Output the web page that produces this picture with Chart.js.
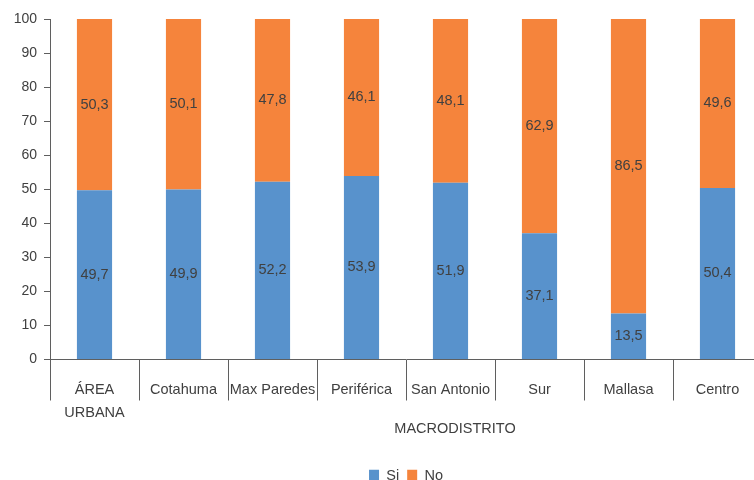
<!DOCTYPE html>
<html lang="es">
<head>
<meta charset="utf-8">
<title>Macrodistrito Si / No</title>
<script src="https://cdn.jsdelivr.net/npm/chart.js@4/dist/chart.umd.min.js"></script>
<style>
  html, body { margin: 0; padding: 0; background: #fff; overflow: hidden; }
  #wrap { width: 770px; height: 480px; }
</style>
</head>
<body>
<div id="wrap"><canvas id="chart" width="770" height="480"></canvas></div>
<script>
/* ── Datos ── */
const categories = [['ÁREA', 'URBANA'], 'Cotahuma', 'Max Paredes', 'Periférica', 'San Antonio', 'Sur', 'Mallasa', 'Centro'];
const siValues = [49.7, 49.9, 52.2, 53.9, 51.9, 37.1, 13.5, 50.4];
const noValues = [50.3, 50.1, 47.8, 46.1, 48.1, 62.9, 86.5, 49.6];
const yTicks = [0, 10, 20, 30, 40, 50, 60, 70, 80, 90, 100];
const axisTitleText = 'MACRODISTRITO';

const FONT = '"Liberation Sans", Arial, sans-serif';
const TEXT = '#404040';
const AXIS = '#5f5f5f';

// Etiquetas de valor dentro de cada segmento (coma decimal)
const barValueLabels = {
  id: 'barValueLabels',
  afterDatasetsDraw(chart) {
    const { ctx } = chart;
    ctx.save();
    ctx.font = '14.5px ' + FONT;
    ctx.fillStyle = TEXT;
    ctx.textAlign = 'center';
    ctx.textBaseline = 'middle';
    chart.data.datasets.forEach((ds, i) => {
      chart.getDatasetMeta(i).data.forEach((bar, j) => {
        const p = bar.getCenterPoint();
        ctx.fillText(ds.data[j].toFixed(1).replace('.', ','), p.x, p.y);
      });
    });
    ctx.restore();
  }
};

// Título del eje X (desplazado como en el original)
const xAxisTitle = {
  id: 'xAxisTitle',
  afterDraw(chart) {
    const { ctx, chartArea } = chart;
    ctx.save();
    ctx.font = '14.5px ' + FONT;
    ctx.fillStyle = TEXT;
    ctx.textAlign = 'center';
    ctx.textBaseline = 'middle';
    ctx.fillText(axisTitleText, (chartArea.left + chartArea.right) / 2 + 49, chartArea.bottom + 69);
    ctx.restore();
  }
};

new Chart(document.getElementById('chart'), {
  type: 'bar',
  data: {
    labels: categories,
    datasets: [
      { label: 'Si', data: siValues, backgroundColor: '#5892cc' },
      { label: 'No', data: noValues, backgroundColor: '#f5843c' }
    ]
  },
  options: {
    responsive: false,
    animation: false,
    layout: { padding: { top: 19, right: 8, bottom: -13, left: 0 } },
    datasets: { bar: { categoryPercentage: 1, barPercentage: 0.395 } },
    plugins: {
      legend: {
        position: 'bottom',
        fullSize: false,
        labels: { boxWidth: 10, boxHeight: 12, padding: 8, color: TEXT, font: { family: FONT, size: 14.5 } }
      },
      tooltip: { enabled: false }
    },
    scales: {
      x: {
        stacked: true,
        grid: { offset: true, drawOnChartArea: false, tickLength: 41, color: AXIS },
        border: { color: AXIS },
        ticks: { color: TEXT, font: { family: FONT, size: 14.5, lineHeight: 1.586 }, padding: -22, maxRotation: 0, autoSkip: false },
        afterFit: s => { s.height = 101; }
      },
      y: {
        stacked: true,
        min: 0, max: 100,
        afterBuildTicks: s => { s.ticks = yTicks.map(v => ({ value: v })); },
        grid: { drawOnChartArea: false, tickLength: 6, color: AXIS },
        border: { color: AXIS },
        ticks: { color: TEXT, font: { family: FONT, size: 14 }, padding: 7 },
        afterFit: s => { s.width = 50; }
      }
    }
  },
  plugins: [barValueLabels, xAxisTitle]
});
</script>
</body>
</html>
